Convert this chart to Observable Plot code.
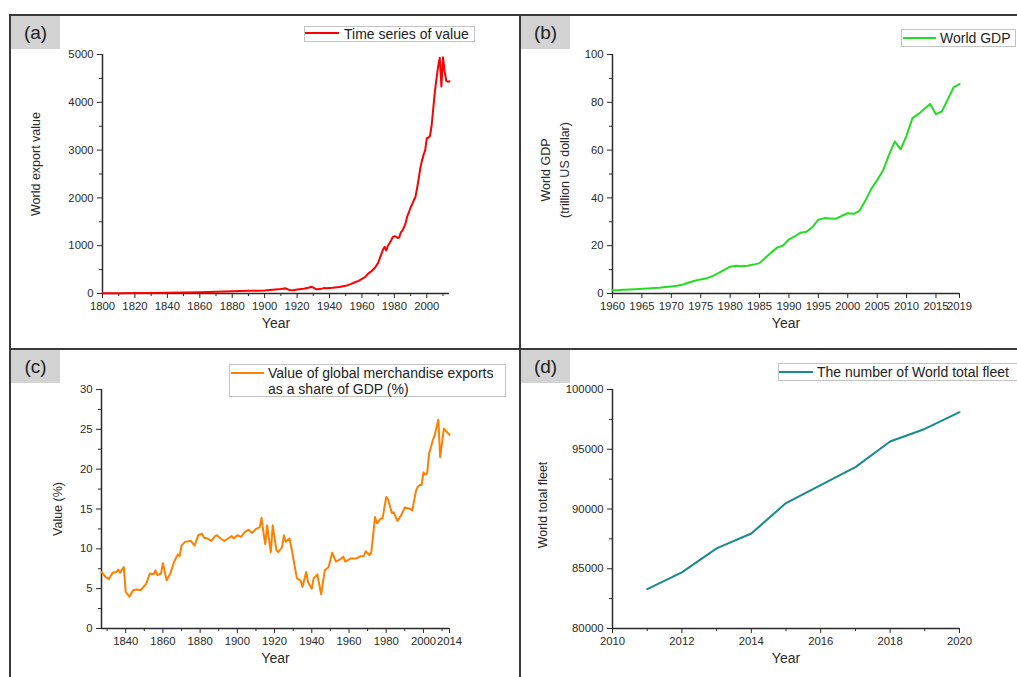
<!DOCTYPE html>
<html>
<head>
<meta charset="utf-8">
<script src="https://cdn.jsdelivr.net/npm/d3@7"></script>
<script src="https://cdn.jsdelivr.net/npm/@observablehq/plot@0.6"></script>
<style>
  html, body { margin: 0; padding: 0; background: #fff; }
  #page { position: relative; width: 1017px; height: 677px; overflow: hidden; background: #fff;
          font-family: "Liberation Sans", Arial, sans-serif; color: #222; }
  .abs { position: absolute; }
  .border { position: absolute; background: #3a3a3a; }
  .tag { position: absolute; background: #d3d3d3; width: 49px; height: 33px; font-size: 19px;
         display: flex; align-items: center; justify-content: center; color: #222; }
  .lgbox { position: absolute; border: 1px solid #c4c4c4; background: #fff; box-sizing: border-box; }
  .lgline { position: absolute; height: 2px; }
  .lgtext { position: absolute; font-size: 14px; line-height: 1; white-space: nowrap; transform: translateY(-50%); color: #222; }
</style>
</head>
<body>
<div id="page"></div>
<script>
// ---------- Data ----------
// (a) World export value
const aYears = [1800,1810,1820,1830,1840,1850,1860,1870,1880,1890,1900,1905,1910,1913,1915,1918,1920,1924,1927,1929,1930,1932,1934,1937,1938,1942,1946,1950,1953,1956,1958,1960,1962,1964,1966,1968,1970,1972,1973,1974,1975,1976,1977,1978,1979,1980,1981,1982,1983,1984,1985,1986,1987,1988,1989,1990,1991,1992,1993,1994,1995,1996,1997,1998,1999,2000,2001,2002,2003,2004,2005,2006,2007,2008,2009,2010,2011,2012,2013,2014];
const aValues = [5,7,9,12,16,22,28,38,47,55,65,78,92,108,75,70,85,98,120,140,125,88,92,118,112,120,138,160,195,240,265,305,345,420,470,540,640,830,920,975,900,1000,1050,1110,1180,1200,1190,1160,1175,1280,1320,1390,1480,1620,1700,1800,1870,1950,2020,2200,2400,2620,2780,2900,3000,3250,3260,3300,3520,3880,4230,4500,4750,4930,4330,4940,4650,4450,4430,4440];

// (b) World GDP (trillion US dollar)
const bYears = [1960,1961,1962,1963,1964,1965,1966,1967,1968,1969,1970,1971,1972,1973,1974,1975,1976,1977,1978,1979,1980,1981,1982,1983,1984,1985,1986,1987,1988,1989,1990,1991,1992,1993,1994,1995,1996,1997,1998,1999,2000,2001,2002,2003,2004,2005,2006,2007,2008,2009,2010,2011,2012,2013,2014,2015,2016,2017,2018,2019];
const bValues = [1.37,1.42,1.53,1.64,1.80,1.96,2.13,2.26,2.44,2.69,2.96,3.26,3.77,4.59,5.30,5.90,6.42,7.26,8.54,9.93,11.23,11.57,11.42,11.62,12.09,12.71,14.97,17.20,19.20,20.07,22.60,23.95,25.44,25.88,27.74,30.87,31.54,31.42,31.31,32.52,33.57,33.35,34.61,38.87,43.78,47.43,51.43,57.86,63.61,60.33,66.04,73.37,75.05,77.19,79.33,75.05,76.16,81.23,86.27,87.65];

// (c) Value of global merchandise exports as a share of GDP (%)
const cYears = [1827,1829,1831,1833,1835,1836,1837,1838,1839,1840,1842,1844,1846,1848,1851,1853,1855,1856,1857,1859,1860,1862,1864,1866,1868,1869,1870,1872,1875,1877,1879,1881,1882,1884,1886,1888,1889,1891,1893,1895,1897,1898,1900,1902,1904,1906,1908,1910,1912,1913,1914,1915,1916,1918,1919,1921,1922,1924,1925,1926,1928,1929,1932,1934,1935,1937,1938,1940,1941,1943,1945,1947,1949,1951,1953,1955,1957,1958,1961,1964,1966,1968,1969,1971,1972,1974,1975,1977,1978,1980,1981,1983,1984,1986,1988,1990,1993,1994,1996,1997,1998,1999,2000,2001,2002,2003,2005,2006,2008,2009,2011,2014];
const cValues = [7.1,6.5,6.2,7.0,7.1,7.4,7.0,7.4,7.7,4.6,4.0,4.8,4.9,4.8,5.6,6.9,6.8,7.3,6.7,6.9,8.2,6.05,6.9,8.35,9.3,9.1,10.4,10.9,11.0,10.4,11.7,11.9,11.4,11.3,11.0,11.6,11.7,11.3,11.0,11.3,11.6,11.3,11.7,11.5,12.1,12.4,12.0,12.5,12.7,13.9,12.1,10.6,12.95,9.6,12.95,9.8,9.6,10.2,11.7,10.9,11.3,10.2,6.3,6.0,5.2,7.1,5.8,5.0,6.3,6.8,4.3,7.3,7.7,9.5,8.4,8.65,9.0,8.4,8.8,8.8,9.06,9.1,9.7,9.2,9.6,14.0,13.2,13.8,13.8,16.5,16.2,14.5,14.6,13.5,14.2,15.2,15.0,14.8,17.3,17.8,18.0,18.0,19.6,19.3,19.5,21.9,23.6,24.2,26.2,21.5,25.1,24.3];

// (d) The number of World total fleet
const dYears = [2011,2012,2013,2014,2015,2016,2017,2018,2019,2020];
const dValues = [83300,84700,86700,87950,90500,92000,93500,95650,96700,98100];

// Tick values
const aXMajor = [1800,1820,1840,1860,1880,1900,1920,1940,1960,1980,2000];
const aXMinor = [1810,1830,1850,1870,1890,1910,1930,1950,1970,1990,2010];
const aYMajor = [0,1000,2000,3000,4000,5000];
const aYMinor = [500,1500,2500,3500,4500];
const bXMajor = [1960,1965,1970,1975,1980,1985,1990,1995,2000,2005,2010,2015,2019];
const bYMajor = [0,20,40,60,80,100];
const bYMinor = [10,30,50,70,90];
const cXMajor = [1840,1860,1880,1900,1920,1940,1960,1980,2000,2014];
const cXMinor = [1830,1850,1870,1890,1910,1930,1950,1970,1990,2010];
const cYMajor = [0,5,10,15,20,25,30];
const cYMinor = [2.5,7.5,12.5,17.5,22.5,27.5];
const dXMajor = [2010,2012,2014,2016,2018,2020];
const dXMinor = [2011,2013,2015,2017,2019];
const dYMajor = [80000,85000,90000,95000,100000];
const dYMinor = [82500,87500,92500,97500];

// Text
const panelTags = ["(a)","(b)","(c)","(d)"];
const legendTexts = ["Time series of value","World GDP",["Value of global merchandise exports","as a share of GDP (%)"],"The number of World total fleet"];
const yTitles = ["World export value","World GDP\n(trillion US dollar)","Value (%)","World total fleet"];
const xTitle = "Year";
const colors = ["#ff0000","#22dd22","#ff8000","#1a8a8a"];

// ---------- Build ----------
const page = document.getElementById("page");
const axisColor = "#2a2a2a";
const fontFamily = "'Liberation Sans', Arial, sans-serif";

function toRows(years, values) { return years.map((y, i) => ({year: y, value: values[i]})); }

function panel({left, top, width, height, margins, xDomain, yDomain, xMajor, xMinor, yMajor, yMinor, rows, color, yTitle, yDx, yDy, yLineHeight}) {
  const marks = [
    Plot.axisX(xMajor, {tickSize: 5, tickPadding: 3, tickFormat: d => String(d), label: null, fontSize: 11.3}),
    Plot.axisY(yMajor, {tickSize: 5, tickPadding: 4, tickFormat: d => String(d), label: null, fontSize: 11.3}),
  ];
  if (xMinor) marks.push(Plot.axisX(xMinor, {tickSize: 3, tickFormat: () => "", label: null}));
  if (yMinor) marks.push(Plot.axisY(yMinor, {tickSize: 3, tickFormat: () => "", label: null}));
  marks.push(
    Plot.ruleY([yDomain[0]], {stroke: axisColor, strokeWidth: 1.5}),
    Plot.ruleX([xDomain[0]], {stroke: axisColor, strokeWidth: 1.5}),
    Plot.line(rows, {x: "year", y: "value", stroke: color, strokeWidth: 2}),
    Plot.text([xTitle], {text: d => d, frameAnchor: "bottom", dy: 30, fontSize: 14, textAnchor: "middle", lineAnchor: "middle"}),
    Plot.text([yTitle], {text: d => d, frameAnchor: "left", dx: yDx, dy: yDy, rotate: -90, fontSize: 12.5,
      textAnchor: "middle", lineAnchor: "middle", lineHeight: yLineHeight || 1})
  );
  const svg = Plot.plot({
    width, height,
    marginLeft: margins[0], marginRight: margins[1], marginTop: margins[2], marginBottom: margins[3],
    x: {domain: xDomain},
    y: {domain: yDomain},
    style: {fontFamily, fontSize: "11px", color: axisColor, background: "transparent", overflow: "visible"},
    marks
  });
  const wrap = document.createElement("div");
  wrap.className = "abs";
  wrap.style.left = left + "px";
  wrap.style.top = top + "px";
  wrap.appendChild(svg);
  page.appendChild(wrap);
}

panel({left: 0, top: 15, width: 520, height: 333, margins: [102, 71, 39, 55],
  xDomain: [1800, 2014], yDomain: [0, 5000], xMajor: aXMajor, xMinor: aXMinor, yMajor: aYMajor, yMinor: aYMinor,
  rows: toRows(aYears, aValues), color: colors[0], yTitle: yTitles[0], yDx: -67, yDy: -10});

panel({left: 520, top: 15, width: 497, height: 333, margins: [92, 58, 39, 55],
  xDomain: [1960, 2019], yDomain: [0, 100], xMajor: bXMajor, xMinor: null, yMajor: bYMajor, yMinor: bYMinor,
  rows: toRows(bYears, bValues), color: colors[1], yTitle: yTitles[1], yDx: -59, yDy: -4, yLineHeight: 1.5});

panel({left: 0, top: 348, width: 520, height: 329, margins: [101, 71, 41, 49],
  xDomain: [1827, 2014], yDomain: [0, 30], xMajor: cXMajor, xMinor: cXMinor, yMajor: cYMajor, yMinor: cYMinor,
  rows: toRows(cYears, cValues), color: colors[2], yTitle: yTitles[2], yDx: -44, yDy: 0});

panel({left: 520, top: 348, width: 497, height: 329, margins: [92, 58, 41, 49],
  xDomain: [2010, 2020], yDomain: [80000, 100000], xMajor: dXMajor, xMinor: dXMinor, yMajor: dYMajor, yMinor: dYMinor,
  rows: toRows(dYears, dValues), color: colors[3], yTitle: yTitles[3], yDx: -70, yDy: -4});

// ---------- Frame borders ----------
function addDiv(cls, css, html) {
  const d = document.createElement("div");
  d.className = cls;
  Object.assign(d.style, css);
  if (html !== undefined) d.innerHTML = html;
  page.appendChild(d);
  return d;
}
addDiv("border", {left: "9px", top: "14px", width: "1010px", height: "2px"});
addDiv("border", {left: "9px", top: "14px", width: "2px", height: "670px"});
addDiv("border", {left: "519px", top: "14px", width: "2px", height: "670px"});
addDiv("border", {left: "9px", top: "348px", width: "1010px", height: "2px"});

// ---------- Panel tags ----------
const tagPos = [[11, 16], [521, 16], [11, 350], [521, 350]];
panelTags.forEach((t, i) => {
  const d = addDiv("tag", {left: tagPos[i][0] + "px", top: tagPos[i][1] + "px"});
  d.textContent = t;
});

// ---------- Legends ----------
function legend(box, line, textX, textYs, color, lines) {
  addDiv("lgbox", {left: box[0] + "px", top: box[1] + "px", width: box[2] + "px", height: box[3] + "px"});
  addDiv("lgline", {left: line[0] + "px", top: line[1] + "px", width: line[2] + "px", background: color});
  lines.forEach((txt, i) => {
    const d = addDiv("lgtext", {left: textX + "px", top: textYs[i] + "px"});
    d.textContent = txt;
  });
}
legend([304, 26, 171, 16], [305, 32, 34], 344, [33.5], colors[0], [legendTexts[0]]);
legend([901, 29, 115, 18], [903, 36.5, 33], 940, [37.8], colors[1], [legendTexts[1]]);
legend([229, 364, 277, 33], [231, 372, 33], 268, [373, 388.5], colors[2], legendTexts[2]);
legend([778, 363, 260, 18], [779, 370.5, 34], 817, [371.8], colors[3], [legendTexts[3]]);
</script>
</body>
</html>
